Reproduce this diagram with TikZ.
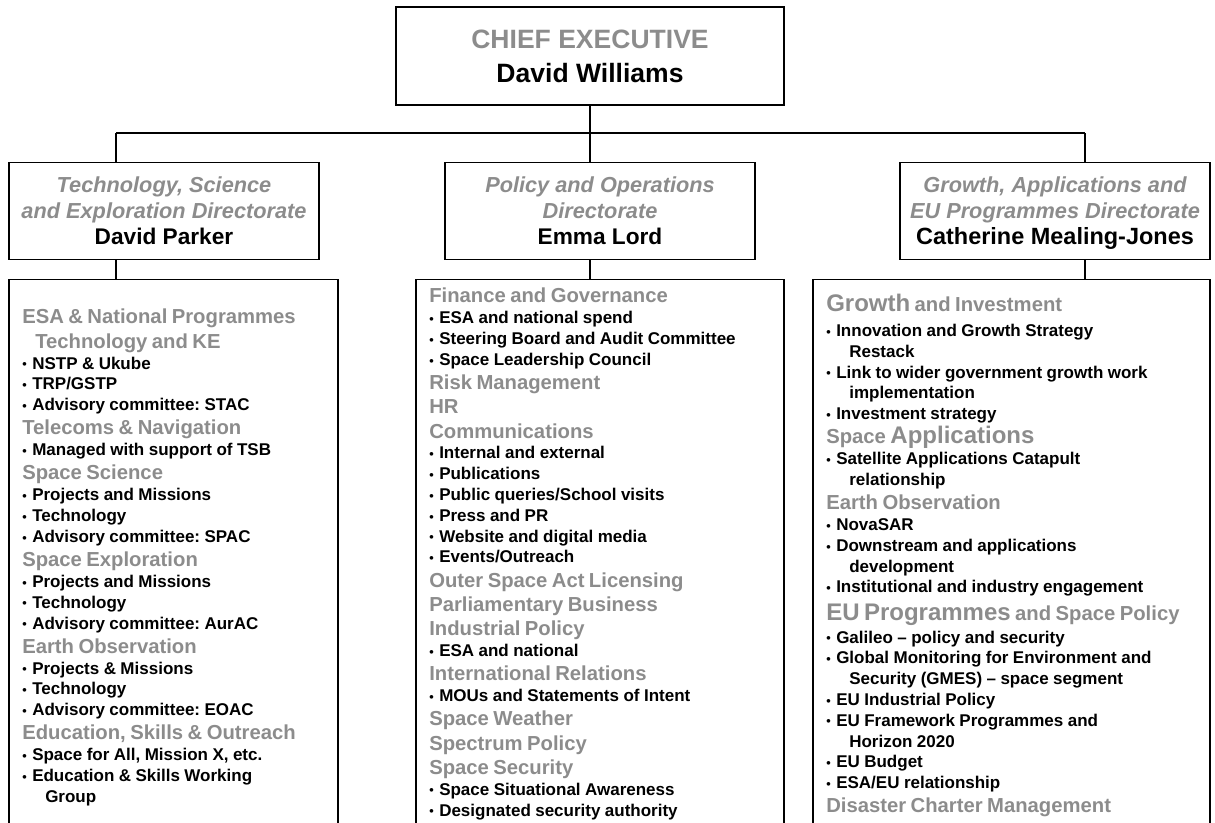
\documentclass[tikz,border=0pt]{standalone}
\usepackage{fontspec}
\setmainfont{Liberation Sans}
\usepackage{tikz}
\definecolor{hdgrey}{RGB}{140,140,140}
\setlength{\parindent}{0pt}
\frenchspacing

\newcommand{\orgHead}[1]{{\fontsize{15.2}{18.2}\selectfont\color{hdgrey}#1\par}}
\newcommand{\orgHeadCont}[1]{{\fontsize{15.2}{18.2}\selectfont\color{hdgrey}\hspace*{9.75pt}#1\par}}
\newcommand{\orgBig}[1]{{\fontsize{18}{18.2}\selectfont #1}}
\newcommand{\orgItem}[1]{{\fontsize{12.75}{15.6}\selectfont\makebox[7.5pt][l]{\raisebox{0.2pt}{\fontsize{9.5}{9.5}\selectfont •}}#1\par}}
\newcommand{\orgCont}[1]{{\fontsize{12.75}{15.6}\selectfont\hspace*{17.25pt}#1\par}}
\newcommand{\orgTitle}[1]{{\itshape\color{hdgrey}#1}}

\tikzset{
  ceobox/.style={draw,line width=0.8pt,minimum width=291pt,minimum height=73.5pt,align=center,inner sep=0pt,font=\bfseries\fontsize{19.9}{25.5}\selectfont},
  dirbox/.style={draw,line width=0.8pt,minimum width=232.5pt,minimum height=72.75pt,align=center,inner sep=0pt,font=\bfseries\fontsize{16.3}{19.5}\selectfont},
  listbox/.style={draw,line width=0.8pt,minimum height=450pt,anchor=north,inner sep=0pt},
  listtext/.style={anchor=north west,inner sep=0pt,align=left,text width=290pt,font=\bfseries},
  linkline/.style={line width=0.8pt}
}

\begin{document}
\begin{tikzpicture}[x=0.75pt,y=0.75pt,yscale=-1,xscale=1]
\path[use as bounding box] (0,0) rectangle (1215,822); %set diagram left start at 0, and has height of 822

%Shape: Rectangle [chief executive]
\node[ceobox] (ceo) at (590,56) {{\color{hdgrey}CHIEF EXECUTIVE}\\David Williams};

%Shape: Rectangle [directorates]
\node[dirbox] (tse) at (164,211) {\orgTitle{Technology, Science}\\\orgTitle{and Exploration Directorate}\\{\fontsize{17}{19.5}\selectfont David Parker}};
\node[dirbox] (pod) at (600,211) {\orgTitle{Policy and Operations}\\\orgTitle{Directorate}\\{\fontsize{17}{19.5}\selectfont Emma Lord}};
\node[dirbox] (gae) at (1055,211) {\orgTitle{Growth, Applications and}\\\orgTitle{EU Programmes Directorate}\\{\fontsize{17.6}{19.5}\selectfont\raisebox{0pt}[\height][0pt]{Catherine Mealing-Jones}}};

%Shape: Rectangle [open lists, cut by the page]
\node[listbox,minimum width=246.75pt] (tseList) at (173.5,279) {};
\node[listbox,minimum width=276pt] (podList) at (600,279) {};
\node[listbox,minimum width=297.75pt] (gaeList) at (1011.5,279) {};

%Straight Lines
\coordinate (busL) at (116,133);
\coordinate (busM) at (590,133);
\coordinate (busR) at (1085,133);
\draw[linkline] (ceo.south) -- (busM);
\draw[linkline] (busL) -- (busR);
\draw[linkline] (busL) -- (busL |- tse.north);
\draw[linkline] (busM) -- (busM |- pod.north);
\draw[linkline] (busR) -- (busR |- gae.north);
\draw[linkline] (busL |- tse.south) -- (busL |- tseList.north);
\draw[linkline] (busM |- pod.south) -- (busM |- podList.north);
\draw[linkline] (busR |- gae.south) -- (busR |- gaeList.north);

% Text Node
\node[listtext] (tseText) at (22,309) {%
\orgHead{ESA \& National Programmes}
\orgHeadCont{Technology and KE}
\orgItem{NSTP \& Ukube}
\orgItem{TRP/GSTP}
\orgItem{Advisory committee: STAC}
\orgHead{Telecoms \& Navigation}
\orgItem{Managed with support of TSB}
\orgHead{Space Science}
\orgItem{Projects and Missions}
\orgItem{Technology}
\orgItem{Advisory committee: SPAC}
\orgHead{Space Exploration}
\orgItem{Projects and Missions}
\orgItem{Technology}
\orgItem{Advisory committee: AurAC}
\orgHead{Earth Observation}
\orgItem{Projects \& Missions}
\orgItem{Technology}
\orgItem{Advisory committee: EOAC}
\orgHead{Education, Skills \& Outreach}
\orgItem{Space for All, Mission X, etc.}
\orgItem{Education \& Skills Working}
\orgCont{Group}};
% Text Node
\node[listtext] (podText) at (429,288) {%
\orgHead{Finance and Governance}
\orgItem{ESA and national spend}
\orgItem{Steering Board and Audit Committee}
\orgItem{Space Leadership Council}
\orgHead{Risk Management}
\orgHead{HR}
\orgHead{Communications}
\orgItem{Internal and external}
\orgItem{Publications}
\orgItem{Public queries/School visits}
\orgItem{Press and PR}
\orgItem{Website and digital media}
\orgItem{Events/Outreach}
\orgHead{Outer Space Act Licensing}
\orgHead{Parliamentary Business}
\orgHead{Industrial Policy}
\orgItem{ESA and national}
\orgHead{International Relations}
\orgItem{MOUs and Statements of Intent}
\orgHead{Space Weather}
\orgHead{Spectrum Policy}
\orgHead{Space Security}
\orgItem{Space Situational Awareness}
\orgItem{Designated security authority}};
% Text Node
\node[listtext] (gaeText) at (826,294) {%
\orgHead{\orgBig{Growth} and Investment}
\vspace{3pt}
\orgItem{Innovation and Growth Strategy}
\orgCont{Restack}
\orgItem{Link to wider government growth work}
\orgCont{implementation}
\orgItem{Investment strategy}
\orgHead{Space \orgBig{Applications}}
\orgItem{Satellite Applications Catapult}
\orgCont{relationship}
\orgHead{Earth Observation}
\orgItem{NovaSAR}
\orgItem{Downstream and applications}
\orgCont{development}
\orgItem{Institutional and industry engagement}
\vspace{2.25pt}
\orgHead{\orgBig{EU Programmes} and Space Policy}
\vspace{1.5pt}
\orgItem{Galileo – policy and security}
\orgItem{Global Monitoring for Environment and}
\orgCont{Security (GMES) – space segment}
\orgItem{EU Industrial Policy}
\orgItem{EU Framework Programmes and}
\orgCont{Horizon 2020}
\orgItem{EU Budget}
\orgItem{ESA/EU relationship}
\orgHead{Disaster Charter Management}};

\end{tikzpicture}
\end{document}
